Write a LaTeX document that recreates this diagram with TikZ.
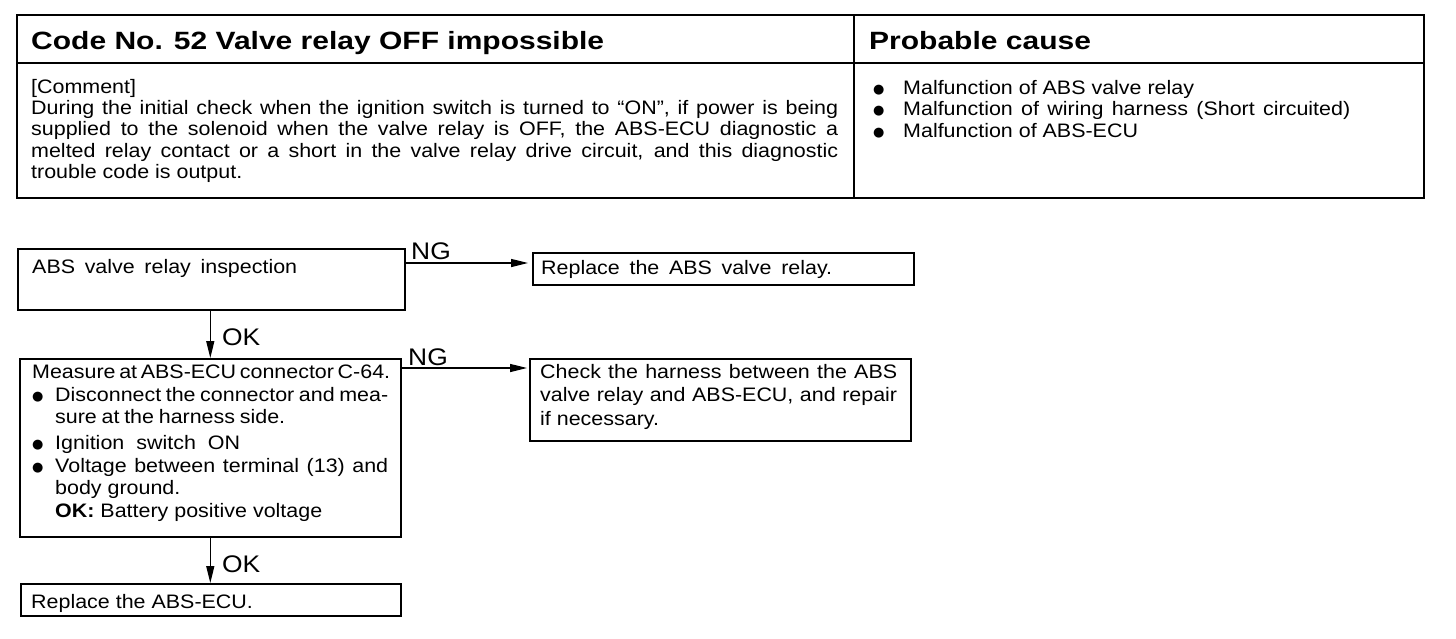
\documentclass[tikz,border=0pt]{standalone}
\usepackage{fontspec}
\setmainfont[FakeStretch=1.1]{Liberation Sans}
\newfontfamily\titlef[FakeStretch=1.2]{Liberation Sans}
\newfontfamily\symf{DejaVu Sans}
\usetikzlibrary{arrows.meta}
\newcommand\bdot{\raisebox{1.0pt}{\symf\fontsize{13}{13}\selectfont ●}}
\newcommand\bul{\makebox[23pt][l]{\bdot}}
\newcommand\bulp{\makebox[30pt][l]{\bdot}}
\newcommand\jline[2]{\makebox[#1][s]{\spaceskip=0.25em plus 3em minus 0.24em\relax #2}}
\tikzset{
  boxn/.style={draw, line width=1.6pt, inner sep=0pt, anchor=north west},
  txt/.style={inner sep=0pt, anchor=base west, align=left, font=\fontsize{19.5}{21.4}\selectfont},
  lbl/.style={inner sep=0pt, anchor=base west, font=\fontsize{24}{24}\selectfont},
  arr/.style={line width=1.3pt, -{Triangle[length=17pt,width=8pt]}},
}
\begin{document}
\begin{tikzpicture}[x=1pt,y=-1pt]
\fill[white] (0,0) rectangle (1456,638);
\useasboundingbox (0,0) rectangle (1456,638);
% table
\draw[line width=2pt] (17,15) rectangle (1424,198);
\draw[line width=1.6pt] (17,63) -- (1424,63);
\draw[line width=1.6pt] (854,15) -- (854,198);
\node[txt, font=\titlef\bfseries\fontsize{25}{28}\selectfont] (title) at (31,49) {Code No. 52 Valve relay OFF impossible};
\node[txt, font=\titlef\bfseries\fontsize{25}{28}\selectfont] (pc) at (869,49) {Probable cause};
% multi-line nodes: base anchor is the baseline of the last line
\node[txt] (cmt) at (31,178.6) {[Comment]\\
\jline{807pt}{During the initial check when the ignition switch is turned to “ON”, if power is being}\\
\jline{807pt}{supplied to the solenoid when the valve relay is OFF, the ABS-ECU diagnostic a}\\
\jline{807pt}{melted relay contact or a short in the valve relay drive circuit, and this diagnostic}\\
trouble code is output.};
\node[txt, font=\fontsize{19.5}{21.5}\selectfont] (causes) at (873,137) {\bulp Malfunction of ABS valve relay\\
\bulp \jline{447pt}{Malfunction of wiring harness (Short circuited)}\\
\bulp Malfunction of ABS-ECU};
% flow boxes
\node[boxn, line width=2.4pt, minimum width=387pt, minimum height=61pt] (b1) at (17,248) {};
\node[boxn, minimum width=381pt, minimum height=32pt] (b2) at (532,252) {};
\node[boxn, minimum width=381pt, minimum height=178pt] (b3) at (19,358) {};
\node[boxn, minimum width=381pt, minimum height=82pt] (b4) at (529,358) {};
\node[boxn, minimum width=380pt, minimum height=32pt] (b5) at (20,583) {};
% box texts
\node[txt] (b1t) at (32,273) {\jline{265pt}{ABS valve relay inspection}};
\node[txt] (b2t) at (541,274) {\jline{291pt}{Replace the ABS valve relay.}};
\node[txt, font=\fontsize{19.5}{22.5}\selectfont] (b3t) at (32,517) {\jline{358pt}{Measure at ABS-ECU connector C-64.}\\
\bul\jline{333pt}{Disconnect the connector and mea-}\\
\hspace*{23pt}\jline{230pt}{sure at the harness side.}\\[3.5pt]
\bul\jline{185pt}{Ignition switch ON}\\
\bul\jline{333pt}{Voltage between terminal (13) and}\\
\hspace*{23pt}body ground.\\
\hspace*{23pt}\textbf{OK:} Battery positive voltage};
\node[txt, font=\fontsize{19.5}{23.5}\selectfont] (b4t) at (540,425) {\jline{357pt}{Check the harness between the ABS}\\
\jline{357pt}{valve relay and ABS-ECU, and repair}\\
if necessary.};
\node[txt] (b5t) at (31,608) {Replace the ABS-ECU.};
% connectors
\coordinate (ng1) at ([yshift=-15pt]b1.north east);
\coordinate (ng2) at ([yshift=-10pt]b3.north east);
\draw[arr, shorten >=4pt] (ng1) -- (ng1 -| b2.west);
\draw[arr, shorten >=2pt] (ng2) -- (ng2 -| b4.west);
\draw[arr] (b1.south -| b3.north) -- (b3.north);
\draw[arr] (b3.south) -- (b3.south |- b5.north);
\node[lbl] (ng1l) at (411,259) {NG};
\node[lbl] (ng2l) at (408,365) {NG};
\node[lbl] (ok1l) at (222,345) {OK};
\node[lbl] (ok2l) at (222,572) {OK};
\end{tikzpicture}
\end{document}
